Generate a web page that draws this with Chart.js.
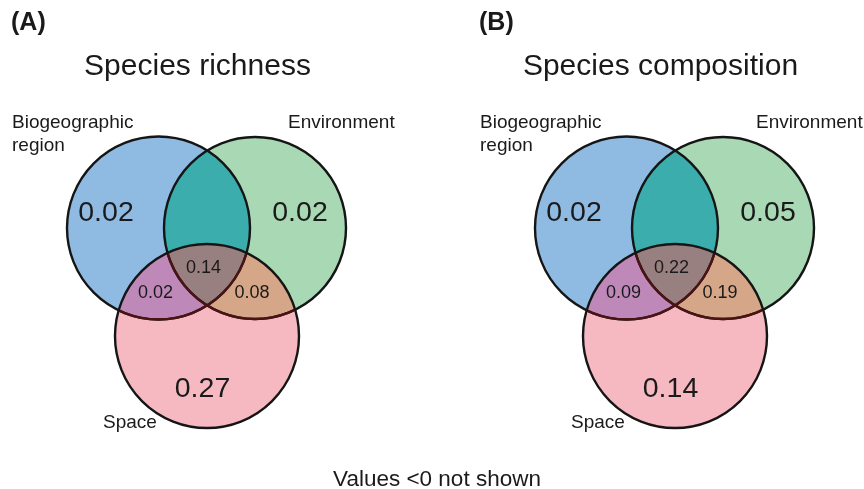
<!DOCTYPE html>
<html lang="en">
<head>
    <meta charset="UTF-8">
    <title>Venn</title>
    <style>
        body { margin: 0; background: #fff; }
        canvas { display: block; }
    </style>
</head>
<body>
    <canvas id="venn" width="864" height="489"></canvas>
    <script src="https://cdn.jsdelivr.net/npm/chart.js@4.4.0/dist/chart.umd.min.js"></script>
    <script>
        const panelTags = ['(A)', '(B)']
        const panelTitles = ['Species richness', 'Species composition']
        const setNames = [['Biogeographic', 'region'], ['Environment'], ['Space']]
        // regions: bio only, env only, bio+env, all three, bio+space, env+space, space only
        const richnessValues = [0.02, 0.02, null, 0.14, 0.02, 0.08, 0.27]
        const compositionValues = [0.02, 0.05, null, 0.22, 0.09, 0.19, 0.14]
        const footNote = 'Values <0 not shown'

        // layout in scale units (scales run 0..864 and 0..489)
        const panelOffset = [0, 468]
        const circleX = [158.5, 255, 207]
        const circleY = [228, 228, 336]
        const circleR = [91.5, 91, 92]
        const regionLabelX = [106, 300, null, 203.5, 155.5, 252, 202.5]
        const regionLabelY = [213, 213, null, 268, 293, 293, 389]
        const setLabelX = [12, 288, 103]
        const setLabelY = [128, 128, 428]
        const tagX = [11, 479]
        const titleX = [197.5, 660.5]

        const baseColors = ['#8fbbe3', '#a8d8b4', '#f7b9c1']
        const overlapColors = {
            bioEnv: '#3aadac',
            bioSpace: '#be89b9',
            envSpace: '#d5a687',
            all: '#998080'
        }
        const font = '"Liberation Sans", Arial, sans-serif'

        const radiusPx = (chart, r) => {
            const x = chart.scales.x
            return Math.abs(x.getPixelForValue(r) - x.getPixelForValue(0))
        }

        const datasets = circleX.map((cx, i) => ({
            label: setNames[i].join(' '),
            data: panelOffset.map(o => ({ x: cx + o, y: circleY[i] })),
            pointRadius: ctx => radiusPx(ctx.chart, circleR[i]),
            pointHoverRadius: ctx => radiusPx(ctx.chart, circleR[i]),
            pointBackgroundColor: 'rgba(0,0,0,0)',
            pointBorderColor: '#151515',
            pointBorderWidth: 2.4,
            pointHoverBorderWidth: 2.4,
            showLine: false,
            clip: false
        }))

        const circlePath = (ctx, el) => {
            ctx.beginPath()
            ctx.arc(el.x, el.y, el.options.radius, 0, Math.PI * 2)
        }

        const vennPlugin = {
            id: 'venn',
            beforeDatasetsDraw(chart) {
                const ctx = chart.ctx
                panelOffset.forEach((o, p) => {
                    const [a, b, c] = [0, 1, 2].map(i => chart.getDatasetMeta(i).data[p])
                    ;[a, b, c].forEach((el, i) => {
                        circlePath(ctx, el)
                        ctx.fillStyle = baseColors[i]
                        ctx.fill()
                    })
                    const fillIn = (clips, target, color) => {
                        ctx.save()
                        clips.forEach(el => { circlePath(ctx, el); ctx.clip() })
                        circlePath(ctx, target)
                        ctx.fillStyle = color
                        ctx.fill()
                        ctx.restore()
                    }
                    fillIn([a], b, overlapColors.bioEnv)
                    fillIn([a], c, overlapColors.bioSpace)
                    fillIn([b], c, overlapColors.envSpace)
                    fillIn([a, b], c, overlapColors.all)
                })
            },
            afterDatasetsDraw(chart) {
                const ctx = chart.ctx
                const sx = v => chart.scales.x.getPixelForValue(v)
                const sy = v => chart.scales.y.getPixelForValue(v)
                panelOffset.forEach((o, p) => {
                    const [a, b, c] = [0, 1, 2].map(i => chart.getDatasetMeta(i).data[p])
                    // arcs inside the Space circle look dark red
                    ctx.save()
                    ctx.beginPath()
                    ctx.arc(c.x, c.y, c.options.radius - 1.3, 0, Math.PI * 2)
                    ctx.clip()
                    ;[a, b].forEach(el => {
                        circlePath(ctx, el)
                        ctx.strokeStyle = '#4a1414'
                        ctx.lineWidth = 2.4
                        ctx.stroke()
                    })
                    ctx.restore()

                    const values = p === 0 ? richnessValues : compositionValues
                    ctx.fillStyle = '#1a1a1a'
                    ctx.textAlign = 'center'
                    ctx.textBaseline = 'middle'
                    values.forEach((v, i) => {
                        if (v === null) return
                        const big = i === 0 || i === 1 || i === 6
                        ctx.font = (big ? '28.5px ' : '18px ') + font
                        ctx.fillText(v.toFixed(2), sx(regionLabelX[i] + o), sy(regionLabelY[i]))
                    })

                    ctx.textAlign = 'left'
                    ctx.textBaseline = 'alphabetic'
                    ctx.font = '19px ' + font
                    setNames.forEach((lines, i) => {
                        lines.forEach((t, k) => {
                            ctx.fillText(t, sx(setLabelX[i] + o), sy(setLabelY[i] + k * 23))
                        })
                    })

                    ctx.font = 'bold 25px ' + font
                    ctx.fillText(panelTags[p], sx(tagX[p]), sy(30))

                    ctx.textAlign = 'center'
                    ctx.font = '30px ' + font
                    ctx.fillText(panelTitles[p], sx(titleX[p]), sy(75))
                })
                ctx.textAlign = 'center'
                ctx.font = '22.5px ' + font
                ctx.fillText(footNote, sx(437), sy(486))
            }
        }

        const vennChart = new Chart(document.getElementById('venn'), {
            type: 'scatter',
            data: { datasets },
            options: {
                responsive: false,
                animation: false,
                events: [],
                layout: { padding: 0 },
                plugins: { legend: { display: false }, tooltip: { enabled: false } },
                scales: {
                    x: { type: 'linear', min: 0, max: 864, display: false },
                    y: { type: 'linear', min: 0, max: 489, reverse: true, display: false }
                }
            },
            plugins: [vennPlugin]
        })
    </script>
</body>
</html>
